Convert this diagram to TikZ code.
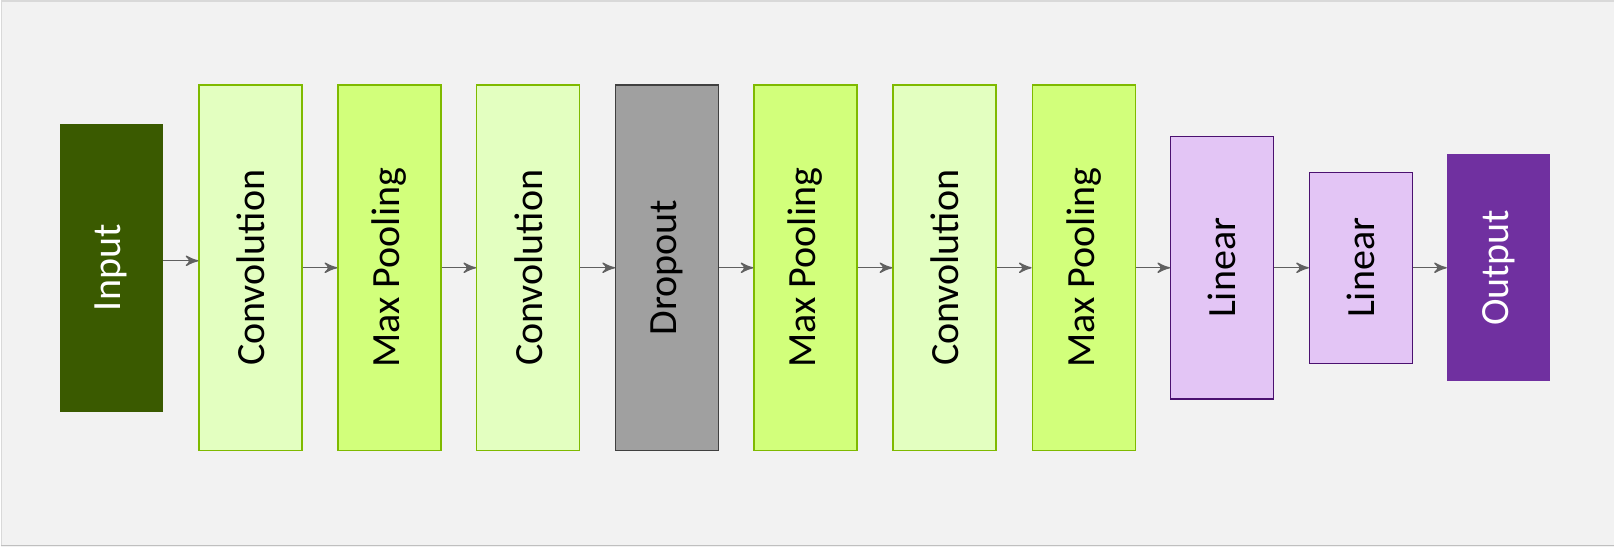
\documentclass[tikz,border=0pt]{standalone}
\usepackage{fontspec}
\setmainfont{Carlito}
\usepackage{tikz}
\usetikzlibrary{arrows,positioning}

\definecolor{slidebg}{HTML}{F2F2F2}
\definecolor{slideedge}{HTML}{D9D9D9}
\definecolor{slidebottom}{HTML}{BFBFBF}
\definecolor{infill}{HTML}{3A5A00}
\definecolor{convfill}{HTML}{E3FFC0}
\definecolor{poolfill}{HTML}{D2FF7B}
\definecolor{greenline}{HTML}{7FBA00}
\definecolor{dropfill}{HTML}{A0A0A0}
\definecolor{dropline}{HTML}{404040}
\definecolor{linfill}{HTML}{E3C5F5}
\definecolor{linline}{HTML}{4B1170}
\definecolor{outfill}{HTML}{7030A0}
\definecolor{flowgray}{HTML}{606060}

\begin{document}
\begin{tikzpicture}[>=stealth',line width=0.4pt]
	% slide background
	\fill[slidebg] (0,0) rectangle (16.15,5.47);
	\draw[slideedge] (0.01,0.01) -- (0.01,5.46) -- (16.15,5.46);
	\draw[slidebottom] (0,0.01) -- (16.15,0.01);
	\tikzset{every node/.style={rectangle,inner sep=0pt,minimum width=1.03cm,font=\fontsize{11.4}{13}\selectfont}}
	\tikzset{inbox/.style={fill=infill,text=white,minimum height=2.88cm}}
	\tikzset{convbox/.style={draw=greenline,fill=convfill,minimum height=3.66cm}}
	\tikzset{poolbox/.style={draw=greenline,fill=poolfill,minimum height=3.66cm}}
	\tikzset{dropbox/.style={draw=dropline,fill=dropfill,minimum height=3.66cm}}
	\tikzset{linbox/.style={draw=linline,fill=linfill}}
	\tikzset{outbox/.style={fill=outfill,text=white,minimum height=2.27cm}}
	\node[inbox]   (In)    at (1.105,2.79)  {\rotatebox{90}{Input}};
	\node[convbox] (Conv1) at (2.50,2.79)   {\rotatebox{90}{Convolution}};
	\node[poolbox] (Pool1) at (3.89,2.79)   {\rotatebox{90}{Max Pooling}};
	\node[convbox] (Conv2) at (5.28,2.79)   {\rotatebox{90}{Convolution}};
	\node[dropbox] (Drop)  at (6.67,2.79)   {\rotatebox{90}{Dropout}};
	\node[poolbox] (Pool2) at (8.055,2.79)  {\rotatebox{90}{Max Pooling}};
	\node[convbox] (Conv3) at (9.445,2.79)  {\rotatebox{90}{Convolution}};
	\node[poolbox] (Pool3) at (10.84,2.79)  {\rotatebox{90}{Max Pooling}};
	\node[linbox,minimum height=2.63cm] (Lin1) at (12.225,2.79) {\rotatebox{90}{Linear}};
	\node[linbox,minimum height=1.91cm] (Lin2) at (13.615,2.79) {\rotatebox{90}{Linear}};
	\node[outbox]  (Out)   at (14.995,2.79) {\rotatebox{90}{Output}};
	\tikzset{flow/.style={->,draw=flowgray,line width=0.4pt}}
	\draw[flow] ([yshift=0.07cm]In.east) -- ([yshift=0.07cm]In.east -| Conv1.west);
	\path
	(Conv1) edge [flow] (Pool1)
	(Pool1) edge [flow] (Conv2)
	(Conv2) edge [flow] (Drop)
	(Drop)  edge [flow] (Pool2)
	(Pool2) edge [flow] (Conv3)
	(Conv3) edge [flow] (Pool3)
	(Pool3) edge [flow] (Lin1)
	(Lin1)  edge [flow] (Lin2)
	(Lin2)  edge [flow] (Out);
\end{tikzpicture}
\end{document}
